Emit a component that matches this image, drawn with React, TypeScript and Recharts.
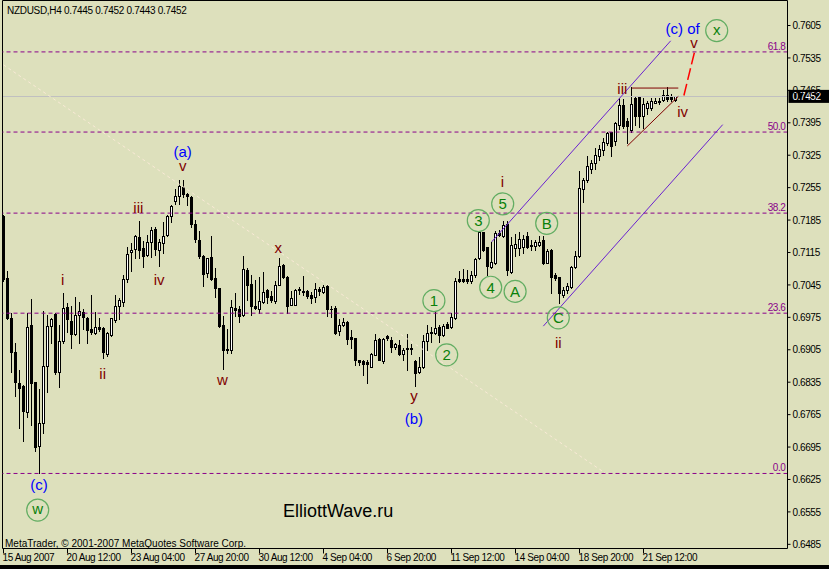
import React from 'react';
import { ComposedChart, Bar, XAxis, YAxis, ReferenceLine, ReferenceDot } from 'recharts';

// NZDUSD H4 candles (oldest first)
const opens = [
  0.7193, 0.7060, 0.6974, 0.6900, 0.6833, 0.6826, 0.6770, 0.6959, 0.6835, 0.6697,
  0.6747, 0.6871, 0.6957, 0.6982, 0.6858, 0.6925, 0.6997, 0.6968, 0.6939, 0.6981,
  0.6987, 0.6974, 0.6950, 0.6941, 0.6954, 0.6952, 0.6896, 0.6937, 0.6970, 0.6999,
  0.7009, 0.7058, 0.7115, 0.7123, 0.7148, 0.7125, 0.7109, 0.7137, 0.7166, 0.7120,
  0.7135, 0.7152, 0.7193, 0.7227, 0.7238, 0.7256, 0.7242, 0.7235, 0.7177, 0.7143,
  0.7108, 0.7071, 0.7105, 0.7060, 0.7038, 0.6959, 0.6906, 0.6904, 0.6996, 0.6993,
  0.6979, 0.7078, 0.7048, 0.6999, 0.6993, 0.7008, 0.7035, 0.7022, 0.7011, 0.7045,
  0.7089, 0.7063, 0.7002, 0.7002, 0.7037, 0.7031, 0.7032, 0.7024, 0.7018, 0.7036,
  0.7029, 0.7042, 0.6994, 0.6995, 0.6945, 0.6959, 0.6966, 0.6932, 0.6930, 0.6882,
  0.6880, 0.6878, 0.6868, 0.6894, 0.6929, 0.6881, 0.6934, 0.6927, 0.6911, 0.6916,
  0.6896, 0.6908, 0.6908, 0.6881, 0.6856, 0.6868, 0.6925, 0.6942, 0.6941, 0.6955,
  0.6936, 0.6960, 0.6954, 0.6974, 0.7058, 0.7057, 0.7057, 0.7053, 0.7067, 0.7103,
  0.7159, 0.7126, 0.7083, 0.7092, 0.7158, 0.7151, 0.7176, 0.7072, 0.7125, 0.7125,
  0.7127, 0.7150, 0.7128, 0.7130, 0.7131, 0.7143, 0.7093, 0.7121, 0.7067, 0.7062,
  0.7024, 0.7033, 0.7040, 0.7084, 0.7108, 0.7252, 0.7272, 0.7295, 0.7308, 0.7324,
  0.7337, 0.7352, 0.7375, 0.7355, 0.7391, 0.7434, 0.7399, 0.7380, 0.7448, 0.7451,
  0.7410, 0.7427, 0.7427, 0.7438, 0.7443, 0.7444, 0.7454, 0.7450, 0.7445,
];
const highs = [
  0.7197, 0.7074, 0.6985, 0.6920, 0.6862, 0.6828, 0.6984, 0.7014, 0.6835, 0.6821,
  0.6988, 0.6981, 0.6974, 0.6985, 0.6959, 0.7027, 0.7006, 0.6999, 0.7020, 0.7008,
  0.6993, 0.6976, 0.7024, 0.6986, 0.6974, 0.6954, 0.6943, 0.6974, 0.7024, 0.7017,
  0.7067, 0.7126, 0.7135, 0.7153, 0.7182, 0.7139, 0.7153, 0.7171, 0.7171, 0.7144,
  0.7181, 0.7195, 0.7218, 0.7251, 0.7272, 0.7272, 0.7244, 0.7237, 0.7186, 0.7161,
  0.7109, 0.7104, 0.7151, 0.7081, 0.7038, 0.6977, 0.6950, 0.7013, 0.7027, 0.6999,
  0.7107, 0.7081, 0.7067, 0.7056, 0.7063, 0.7072, 0.7036, 0.7031, 0.7053, 0.7103,
  0.7090, 0.7064, 0.7032, 0.7037, 0.7040, 0.7065, 0.7033, 0.7029, 0.7049, 0.7040,
  0.7044, 0.7044, 0.6999, 0.6999, 0.6971, 0.6974, 0.6967, 0.6948, 0.6931, 0.6884,
  0.6882, 0.6883, 0.6898, 0.6938, 0.6930, 0.6930, 0.6936, 0.6932, 0.6920, 0.6926,
  0.6909, 0.6940, 0.6918, 0.6882, 0.6889, 0.6936, 0.6959, 0.6955, 0.6988, 0.6959,
  0.6961, 0.6964, 0.6984, 0.7060, 0.7074, 0.7080, 0.7078, 0.7076, 0.7104, 0.7160,
  0.7160, 0.7126, 0.7137, 0.7161, 0.7164, 0.7184, 0.7182, 0.7148, 0.7156, 0.7160,
  0.7153, 0.7160, 0.7142, 0.7142, 0.7151, 0.7150, 0.7123, 0.7123, 0.7070, 0.7063,
  0.7041, 0.7049, 0.7085, 0.7118, 0.7290, 0.7276, 0.7324, 0.7315, 0.7341, 0.7346,
  0.7363, 0.7376, 0.7376, 0.7397, 0.7448, 0.7446, 0.7405, 0.7472, 0.7450, 0.7452,
  0.7448, 0.7441, 0.7448, 0.7448, 0.7449, 0.7466, 0.7472, 0.7458, 0.7452,
];
const lows = [
  0.7054, 0.6972, 0.6858, 0.6806, 0.6736, 0.6709, 0.6759, 0.6743, 0.6687, 0.6639,
  0.6725, 0.6814, 0.6920, 0.6853, 0.6824, 0.6920, 0.6943, 0.6909, 0.6936, 0.6920,
  0.6950, 0.6920, 0.6940, 0.6940, 0.6946, 0.6887, 0.6892, 0.6935, 0.6966, 0.6972,
  0.6999, 0.7051, 0.7076, 0.7103, 0.7103, 0.7083, 0.7108, 0.7105, 0.7110, 0.7085,
  0.7114, 0.7150, 0.7180, 0.7220, 0.7220, 0.7235, 0.7218, 0.7170, 0.7137, 0.7104,
  0.7042, 0.7063, 0.7056, 0.7020, 0.6955, 0.6864, 0.6899, 0.6899, 0.6977, 0.6966,
  0.6977, 0.7013, 0.6981, 0.6994, 0.6984, 0.7007, 0.7007, 0.7009, 0.7007, 0.7044,
  0.7060, 0.6984, 0.7001, 0.7001, 0.7025, 0.7024, 0.7016, 0.7006, 0.7008, 0.7024,
  0.7028, 0.6977, 0.6976, 0.6940, 0.6937, 0.6956, 0.6918, 0.6909, 0.6873, 0.6872,
  0.6851, 0.6833, 0.6867, 0.6893, 0.6883, 0.6877, 0.6927, 0.6901, 0.6906, 0.6893,
  0.6883, 0.6862, 0.6895, 0.6826, 0.6855, 0.6866, 0.6905, 0.6922, 0.6940, 0.6922,
  0.6935, 0.6951, 0.6952, 0.6971, 0.7051, 0.7051, 0.7049, 0.7049, 0.7063, 0.7100,
  0.7119, 0.7067, 0.7081, 0.7090, 0.7150, 0.7149, 0.7067, 0.7071, 0.7107, 0.7110,
  0.7114, 0.7124, 0.7121, 0.7120, 0.7130, 0.7091, 0.7092, 0.7027, 0.7056, 0.7006,
  0.7020, 0.7027, 0.7039, 0.7082, 0.7106, 0.7225, 0.7268, 0.7287, 0.7295, 0.7314,
  0.7326, 0.7346, 0.7324, 0.7346, 0.7381, 0.7383, 0.7351, 0.7376, 0.7391, 0.7385,
  0.7383, 0.7413, 0.7423, 0.7437, 0.7436, 0.7443, 0.7443, 0.7443, 0.7443,
];
const closes = [
  0.7058, 0.6974, 0.6901, 0.6835, 0.6822, 0.6772, 0.6955, 0.6833, 0.6695, 0.6746,
  0.6870, 0.6957, 0.6972, 0.6858, 0.6924, 0.6995, 0.6971, 0.6940, 0.6981, 0.6988,
  0.6975, 0.6947, 0.6943, 0.6954, 0.6950, 0.6900, 0.6941, 0.6973, 0.7000, 0.7013,
  0.7058, 0.7112, 0.7120, 0.7150, 0.7121, 0.7107, 0.7138, 0.7164, 0.7123, 0.7138,
  0.7151, 0.7193, 0.7216, 0.7237, 0.7259, 0.7242, 0.7238, 0.7177, 0.7144, 0.7108,
  0.7069, 0.7103, 0.7058, 0.7038, 0.6957, 0.6904, 0.6904, 0.6997, 0.6991, 0.6977,
  0.7079, 0.7044, 0.6999, 0.6995, 0.7011, 0.7030, 0.7020, 0.7013, 0.7045, 0.7085,
  0.7062, 0.7000, 0.7017, 0.7035, 0.7033, 0.7029, 0.7021, 0.7017, 0.7037, 0.7032,
  0.7040, 0.6993, 0.6992, 0.6942, 0.6959, 0.6965, 0.6929, 0.6928, 0.6882, 0.6878,
  0.6875, 0.6875, 0.6896, 0.6927, 0.6883, 0.6929, 0.6930, 0.6912, 0.6918, 0.6896,
  0.6905, 0.6907, 0.6906, 0.6855, 0.6868, 0.6925, 0.6941, 0.6944, 0.6952, 0.6937,
  0.6957, 0.6952, 0.6975, 0.7054, 0.7054, 0.7053, 0.7053, 0.7067, 0.7101, 0.7159,
  0.7121, 0.7086, 0.7095, 0.7157, 0.7152, 0.7175, 0.7078, 0.7132, 0.7134, 0.7144,
  0.7144, 0.7127, 0.7132, 0.7138, 0.7138, 0.7093, 0.7119, 0.7063, 0.7060, 0.7027,
  0.7033, 0.7042, 0.7084, 0.7108, 0.7254, 0.7272, 0.7302, 0.7308, 0.7326, 0.7339,
  0.7354, 0.7372, 0.7345, 0.7394, 0.7434, 0.7387, 0.7387, 0.7436, 0.7409, 0.7410,
  0.7436, 0.7438, 0.7443, 0.7443, 0.7440, 0.7454, 0.7446, 0.7446, 0.7452,
];

const lastPrice = 0.7452;

const yTicks = [
  0.6485, 0.6555, 0.6625, 0.6695, 0.6765, 0.6835, 0.6905, 0.6975, 0.7045,
  0.7115, 0.7185, 0.7255, 0.7325, 0.7395, 0.7465, 0.7535, 0.7605,
];

const xTickIdx = [0, 16, 32, 48, 64, 80, 96, 112, 128, 144, 160];
const xTickLabels = [
  '15 Aug 2007', '20 Aug 12:00', '23 Aug 04:00', '27 Aug 20:00', '30 Aug 12:00',
  '4 Sep 04:00', '6 Sep 20:00', '11 Sep 12:00', '14 Sep 04:00', '18 Sep 20:00', '21 Sep 12:00',
];

// fibonacci retracement levels
const fibLevels = ['61.8', '50.0', '38.2', '23.6', '0.0'];
const fibPrices = [0.7548, 0.7375, 0.72, 0.6984, 0.6638];

// wave counts: [text, bar, price, degree]
const waves: [string, number, number, string][] = [
  ['(c)', 8.9, 0.6611, 'minor'],
  ['w', 8.55, 0.6559, 'circle'],
  ['i', 14.8, 0.7056, 'sub'],
  ['ii', 24.8, 0.6854, 'sub'],
  ['iii', 33.7, 0.7211, 'sub'],
  ['iv', 38.9, 0.7056, 'sub'],
  ['(a)', 44.8, 0.7329, 'minor'],
  ['v', 44.8, 0.73, 'sub'],
  ['w', 54.7, 0.6838, 'sub'],
  ['x', 68.7, 0.7123, 'sub'],
  ['y', 102.6, 0.68, 'sub'],
  ['(b)', 102.6, 0.6753, 'minor'],
  ['1', 107.6, 0.7011, 'circle'],
  ['2', 110.8, 0.6894, 'circle'],
  ['3', 118.7, 0.7184, 'circle'],
  ['4', 121.8, 0.704, 'circle'],
  ['5', 124.8, 0.722, 'circle'],
  ['i', 124.7, 0.7268, 'sub'],
  ['A', 127.9, 0.7031, 'circle'],
  ['B', 135.8, 0.7178, 'circle'],
  ['C', 138.7, 0.6974, 'circle'],
  ['ii', 138.7, 0.6921, 'sub'],
  ['iii', 154.7, 0.7468, 'sub'],
  ['iv', 169.8, 0.7419, 'sub'],
  ['v', 172.6, 0.7565, 'sub'],
  ['(c) of', 169.8, 0.7595, 'minor'],
  ['x', 178.3, 0.7594, 'circle'],
];

const candles = opens.map((o, i) => ({
  i,
  open: o,
  high: highs[i],
  low: lows[i],
  close: closes[i],
}));

const BG = '#dde0bc';
const MT_FONT = "'Liberation Sans', Arial, sans-serif";
const WAVE_FONT = "'Liberation Sans', Arial, sans-serif";
const FIB = '#8a008a';
const CHANNEL = '#6a22d0';
const MAROON = '#800000';

const Candle = (props: any) => {
  const { x, y, width, height, payload } = props;
  if (!payload) return null;
  const { open, close, high, low } = payload;
  const cx = Math.floor(x + width / 2) + 0.5;
  const span = high - low;
  const pix = (v: number) => (span > 0 ? y + ((high - v) / span) * height : y);
  const t = Math.round(Math.min(pix(open), pix(close))) + 0.5;
  const b = Math.round(Math.max(pix(open), pix(close))) + 0.5;
  const up = close > open;
  return (
    <g shapeRendering="crispEdges">
      <line x1={cx} x2={cx} y1={Math.round(y)} y2={Math.round(y + height) + 1} stroke="#000" />
      {b - t >= 1 ? (
        <rect x={cx - 1} y={t} width={2} height={b - t} fill={up ? '#fff' : '#000'} stroke="#000" />
      ) : (
        <line x1={cx - 1.5} x2={cx + 1.5} y1={t} y2={t} stroke="#000" />
      )}
    </g>
  );
};

const textDy = (t: string) => {
  if (t.startsWith('(')) return '0.27em';
  if (t === 'y') return '0.15em';
  if (/^[vwx]$/.test(t)) return '0.26em';
  return '0.36em';
};

const waveShape = (text: string, degree: string) => (p: any) => {
  const color = degree === 'minor' ? '#0000ff' : degree === 'circle' ? '#0a800a' : MAROON;
  return (
    <g>
      {degree === 'circle' && (
        <circle cx={p.cx} cy={p.cy} r={11} fill="none" stroke="#62ad62" strokeWidth={1.2} />
      )}
      <text
        x={p.cx}
        y={p.cy}
        dy={textDy(text)}
        textAnchor="middle"
        fill={color}
        fontSize={15}
        fontFamily={WAVE_FONT}
      >
        {text}
      </text>
    </g>
  );
};

const XTick = (props: any) => {
  const { x, payload } = props;
  const k = xTickIdx.indexOf(payload.value);
  return (
    <text x={x - 1} y={561} textAnchor="start" fontSize={10} letterSpacing={-0.4} fontFamily={MT_FONT} fill="#000">
      {k >= 0 ? xTickLabels[k] : ''}
    </text>
  );
};

const YTick = (props: any) => {
  const { x, y, payload } = props;
  return (
    <text x={x} y={y} dy="0.36em" textAnchor="start" fontSize={10} letterSpacing={-0.4} fontFamily={MT_FONT} fill="#000">
      {Number(payload.value).toFixed(4)}
    </text>
  );
};

const fibLabel = (text: string) => (props: any) => {
  const vb = props.viewBox;
  return (
    <text
      x={vb.x + vb.width - 2}
      y={vb.y - 2}
      textAnchor="end"
      fontSize={10}
      letterSpacing={-0.4}
      fontFamily={MT_FONT}
      fill={FIB}
    >
      {text}
    </text>
  );
};

const priceBox = (props: any) => {
  const vb = props.viewBox;
  return (
    <g>
      <rect x={vb.x + vb.width + 1} y={vb.y - 6.5} width={42} height={13} fill="#000" />
      <text
        x={vb.x + vb.width + 5}
        y={vb.y}
        dy="0.36em"
        fontSize={10}
        letterSpacing={-0.4}
        fontFamily={MT_FONT}
        fill="#fff"
      >
        {lastPrice.toFixed(4)}
      </text>
    </g>
  );
};

export default function App() {
  return (
    <div style={{ position: 'absolute', left: 0, top: 0, width: 829, height: 569, background: '#000' }}>
      <ComposedChart
        width={829}
        height={565}
        data={candles}
        margin={{ top: 0.5, left: 2.5, right: 0, bottom: 0 }}
        style={{ background: BG }}
      >
        <XAxis
          type="number"
          dataKey="i"
          domain={[-0.25, 196]}
          ticks={xTickIdx}
          interval={0}
          allowDataOverflow
          height={16.5}
          tickSize={5}
          axisLine={{ stroke: '#000' }}
          tickLine={{ stroke: '#000' }}
          tick={<XTick />}
        />
        <YAxis
          orientation="right"
          type="number"
          domain={[0.6476, 0.7659]}
          ticks={yTicks}
          interval={0}
          allowDataOverflow
          width={41.5}
          tickSize={3}
          tickMargin={2}
          axisLine={{ stroke: '#000' }}
          tickLine={{ stroke: '#000' }}
          tick={<YTick />}
        />
        <ReferenceLine x={-0.25} stroke="#000" />
        <ReferenceLine y={0.7659} stroke="#000" />
        {fibPrices.map((p, k) => (
          <ReferenceLine
            key={`fib-${k}`}
            y={p}
            stroke={FIB}
            strokeDasharray="4 3"
            label={fibLabel(fibLevels[k])}
          />
        ))}
        <ReferenceLine y={lastPrice} stroke="#c0c0c0" shapeRendering="crispEdges" label={priceBox} />
        <ReferenceLine
          segment={[{ x: 0, y: 0.752 }, { x: 150.4, y: 0.6639 }]}
          stroke="#f9ead6"
          strokeDasharray="3 3"
        />
        <ReferenceLine segment={[{ x: 122.05, y: 0.7138 }, { x: 166.8, y: 0.7572 }]} stroke={CHANNEL} />
        <ReferenceLine segment={[{ x: 134.95, y: 0.6956 }, { x: 179.8, y: 0.7391 }]} stroke={CHANNEL} />
        <Bar
          dataKey={(d: any) => [d.low, d.high]}
          barSize={3}
          shape={<Candle />}
          isAnimationActive={false}
        />
        <ReferenceLine segment={[{ x: 157.05, y: 0.747 }, { x: 168.7, y: 0.747 }]} stroke={MAROON} />
        <ReferenceLine segment={[{ x: 155.95, y: 0.7345 }, { x: 168.7, y: 0.7452 }]} stroke={MAROON} />
        <ReferenceLine
          segment={[{ x: 170.1, y: 0.7454 }, { x: 172.9, y: 0.7553 }]}
          stroke="#ff0000"
          strokeWidth={1.5}
          strokeDasharray="12 4"
        />
        {waves.map(([t, xi, p, deg], k) => (
          <ReferenceDot
            key={`w-${k}`}
            x={xi}
            y={p}
            r={0}
            ifOverflow="visible"
            shape={waveShape(t, deg)}
          />
        ))}
      </ComposedChart>
      <svg
        width={829}
        height={565}
        style={{ position: 'absolute', left: 0, top: 0, pointerEvents: 'none' }}
      >
        <text x={7} y={14} fontSize={10} letterSpacing={-0.3} fontFamily={MT_FONT} fill="#000">
          {'NZDUSD,H4  0.7445 0.7452 0.7443 0.7452'}
        </text>
        <text x={5} y={546.5} fontSize={10} fontFamily={MT_FONT} fill="#000">
          MetaTrader, © 2001-2007 MetaQuotes Software Corp.
        </text>
        <text x={283} y={516.7} fontSize={18} fontFamily={WAVE_FONT} fill="#000">
          ElliottWave.ru
        </text>
      </svg>
    </div>
  );
}
